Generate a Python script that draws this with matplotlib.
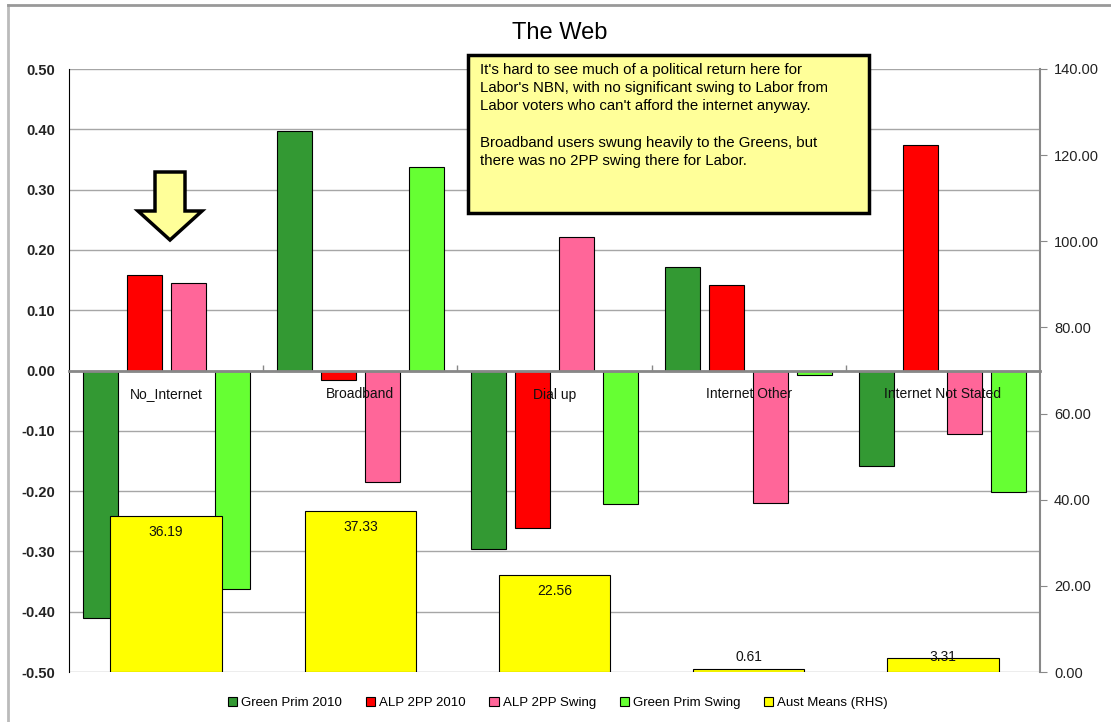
import numpy as np
import matplotlib
matplotlib.use('Agg')
import matplotlib.pyplot as plt
from matplotlib.patches import Polygon, Rectangle
from matplotlib.lines import Line2D
from matplotlib.ticker import FuncFormatter, FormatStrFormatter

plt.rcParams['font.family'] = ['Liberation Sans', 'DejaVu Sans']
plt.rcParams['axes.unicode_minus'] = False

# ======= Dados =======
categories = ['No_Internet', 'Broadband', 'Dial up', 'Internet Other', 'Internet Not Stated']
green_prim_2010 = [-0.410, 0.398, -0.296, 0.172, -0.158]
alp_2pp_2010 = [0.158, -0.015, -0.262, 0.141, 0.374]
alp_2pp_swing = [0.145, -0.185, 0.222, -0.220, -0.105]
green_prim_swing = [-0.362, 0.337, -0.222, -0.008, -0.202]
aust_means = [36.19, 37.33, 22.56, 0.61, 3.31]

series_names = ['Green Prim 2010', 'ALP 2PP 2010', 'ALP 2PP Swing', 'Green Prim Swing']
series_vals = [green_prim_2010, alp_2pp_2010, alp_2pp_swing, green_prim_swing]
series_colors = ['#339933', '#FF0000', '#FF6699', '#66FF33']
yellow = '#FFFF00'

W, H = 1111, 722
def px(x, y):
    return (x / W, 1 - y / H)

fig = plt.figure(figsize=(W / 100, H / 100), dpi=100, facecolor='white')

# borda externa
fig.add_artist(Line2D([8 / W, 8 / W], [0, 1 - 5 / H], color='#BBBBBB', lw=2, transform=fig.transFigure))
fig.add_artist(Line2D([8 / W, 1], [1 - 5 / H, 1 - 5 / H], color='#999999', lw=2, transform=fig.transFigure))

ax1 = fig.add_axes([69 / W, 1 - 672 / H, (1040 - 69) / W, (672 - 69) / H])
ax2 = ax1.twinx()

x = np.arange(len(categories))
bw = 0.18
step = 0.2266
for k, (vals, col, name) in enumerate(zip(series_vals, series_colors, series_names)):
    ax1.bar(x + (k - 1.5) * step, vals, width=bw, color=col, edgecolor='black', lw=0.8, label=name, zorder=2)

ax1.set_xlim(-0.5, len(categories) - 0.5)
ax1.set_ylim(-0.5, 0.5)
ax1.set_yticks(np.arange(-0.5, 0.51, 0.1))
ax1.yaxis.set_major_formatter(FuncFormatter(lambda v, p: f'{round(v, 2) + 0.0:.2f}'))
ax1.grid(axis='y', color='#A6A6A6', lw=1, zorder=0)
ax1.set_axisbelow(True)
ax1.tick_params(axis='y', length=0, pad=10, labelsize=10.5, labelcolor='#222222')
for lab in ax1.get_yticklabels():
    lab.set_fontweight('bold')

# eixo x no zero
ax1.spines['bottom'].set_position(('data', 0))
ax1.spines['bottom'].set_color('#888888')
ax1.spines['bottom'].set_linewidth(2)
ax1.set_xticks(np.arange(0.5, len(categories) - 0.5, 1))
ax1.set_xticklabels([])
ax1.tick_params(axis='x', direction='in', length=4, color='#888888', width=1)
ax1.spines['top'].set_visible(False)
ax1.spines['left'].set_color('black')
ax1.spines['right'].set_visible(False)

for i, c in enumerate(categories):
    ax1.annotate(c, (i, 0), xytext=(0, -24), textcoords='offset pixels',
                 ha='center', va='center', fontsize=10, color='#111111', zorder=5)

# eixo direito
ax2.bar(x, aust_means, width=0.573, color=yellow, edgecolor='black', lw=0.8, label='Aust Means (RHS)')
ax2.set_ylim(0, 140)
ax2.set_yticks(np.arange(0, 141, 20))
ax2.yaxis.set_major_formatter(FormatStrFormatter('%.2f'))
ax2.tick_params(axis='y', direction='out', length=5, color='#888888', pad=5, labelsize=10.5, labelcolor='#222222')
for s in ['top', 'left', 'bottom']:
    ax2.spines[s].set_visible(False)
ax2.spines['right'].set_color('#888888')
ax2.spines['right'].set_linewidth(1.5)

for i, v in enumerate(aust_means):
    ax2.annotate(f'{v:.2f}', (i, max(v, 7.2)), xytext=(0, -16), textcoords='offset pixels',
                 ha='center', va='center', fontsize=10, color='#111111')

# titulo
fig.text(*px(560, 33), 'The Web', ha='center', va='center', fontsize=17)

# caixa de texto
bx0, by0 = px(468, 213)
fig.add_artist(Rectangle((bx0, by0), 401 / W, 158 / H, transform=fig.transFigure,
                         facecolor='#FFFF99', edgecolor='black', lw=2.5, zorder=10))
nota = ("It's hard to see much of a political return here for\n"
        "Labor's NBN, with no significant swing to Labor from\n"
        "Labor voters who can't afford the internet anyway.\n"
        "\n"
        "Broadband users swung heavily to the Greens, but\n"
        "there was no 2PP swing there for Labor.")
fig.text(*px(480, 63), nota, ha='left', va='top', fontsize=10.8, linespacing=1.38, zorder=11)

# seta
arrow_pts = [px(155, 172), px(185, 172), px(185, 211), px(202, 211), px(170, 240),
             px(138, 211), px(155, 211)]
fig.add_artist(Polygon(arrow_pts, closed=True, transform=fig.transFigure,
                       facecolor='#FFFF99', edgecolor='black', lw=2.5, zorder=10))

# legenda
h1, l1 = ax1.get_legend_handles_labels()
h2, l2 = ax2.get_legend_handles_labels()
fig.legend(h1 + h2, l1 + l2, loc='center', bbox_to_anchor=px(558, 703), ncol=5,
           frameon=False, fontsize=9.5, handlelength=0.7, handleheight=0.7,
           handletextpad=0.3, columnspacing=1.8)

fig.savefig('out.png', dpi=100, facecolor='white')
